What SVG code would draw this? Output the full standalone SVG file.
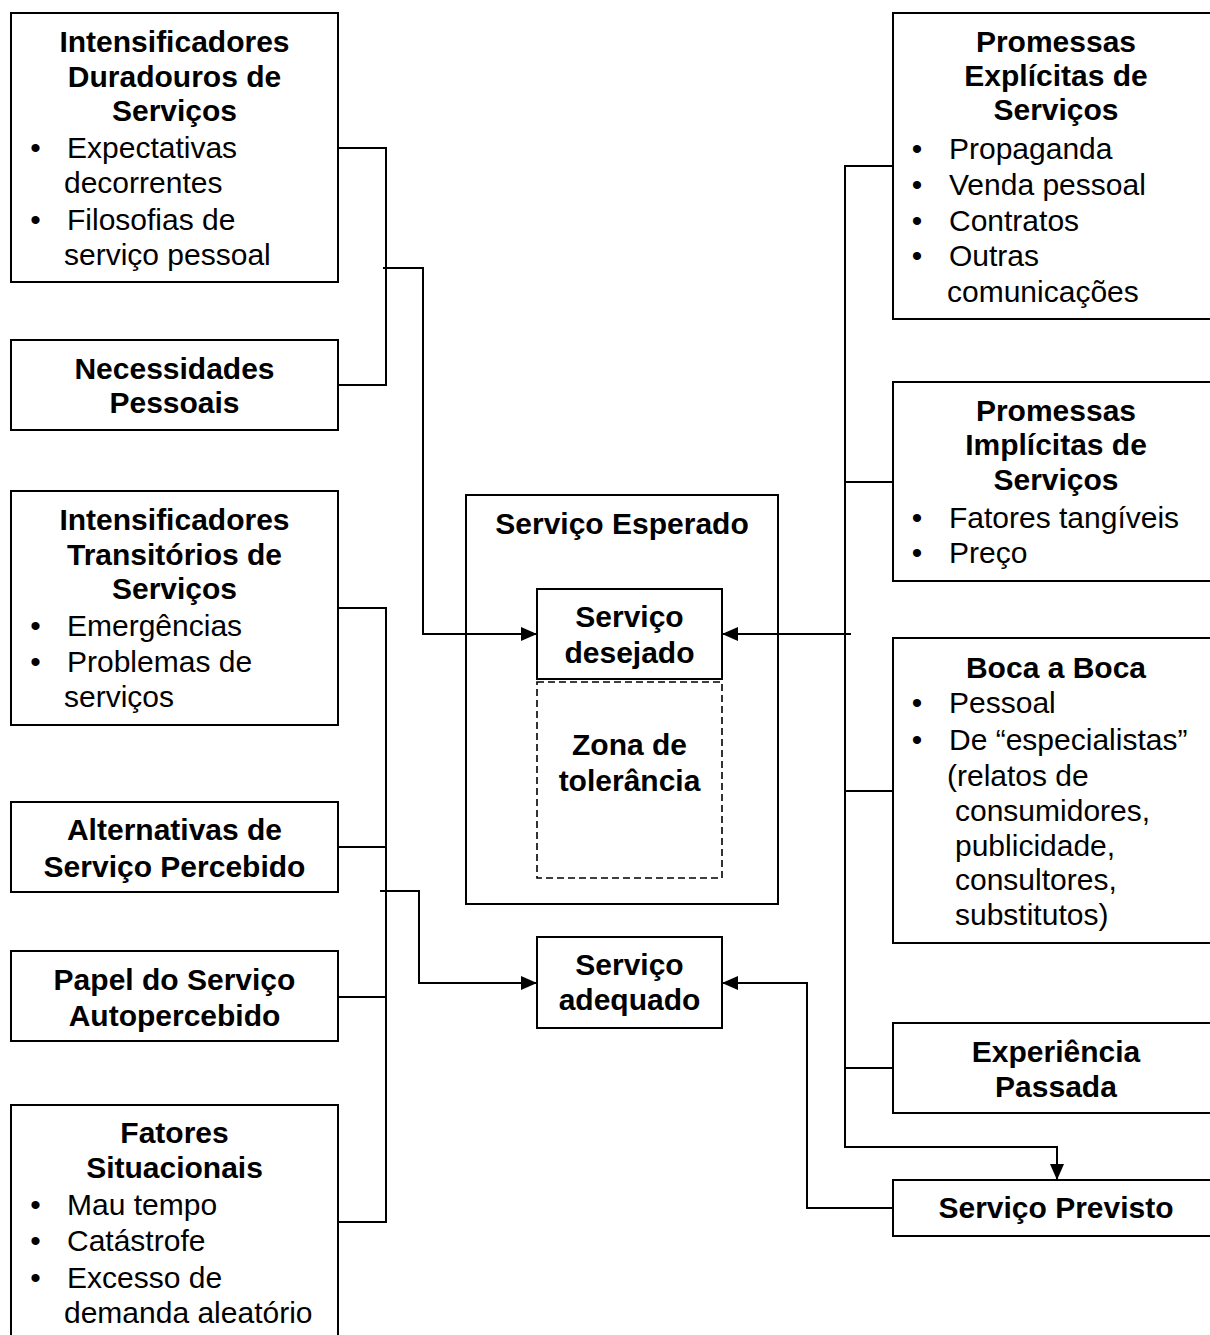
<svg xmlns="http://www.w3.org/2000/svg" width="1210" height="1335" viewBox="0 0 1210 1335">
<defs>
<style>
.box{fill:#fff;stroke:#000;stroke-width:2}
.dash{fill:none;stroke:#000;stroke-width:1.6;stroke-dasharray:7 4}
.t{font-family:"Liberation Sans",Arial,sans-serif;font-size:30px;fill:#000}
.b{font-weight:bold;text-anchor:middle}
.bl{text-anchor:middle}
.ln{fill:none;stroke:#000;stroke-width:2}
</style>
<marker id="arr" viewBox="0 0 16 14" refX="16" refY="7" markerWidth="16" markerHeight="14" markerUnits="userSpaceOnUse" orient="auto">
<path d="M0,0 L16,7 L0,14 z" fill="#000"/>
</marker>
</defs>
<rect width="1210" height="1335" fill="#fff"/>

<g id="duradouros">
<rect class="box" x="11" y="13" width="327" height="269"/>
<text class="t b" x="174.5" y="52">Intensificadores</text>
<text class="t b" x="174.5" y="87">Duradouros de</text>
<text class="t b" x="174.5" y="121">Serviços</text>
<text class="t bl" x="35.5" y="158">•</text>
<text class="t" x="67" y="158">Expectativas</text>
<text class="t" x="64" y="193">decorrentes</text>
<text class="t bl" x="35.5" y="230">•</text>
<text class="t" x="67" y="230">Filosofias de</text>
<text class="t" x="64" y="265">serviço pessoal</text>
</g>

<g id="necessidades">
<rect class="box" x="11" y="340" width="327" height="90"/>
<text class="t b" x="174.5" y="379">Necessidades</text>
<text class="t b" x="174.5" y="413">Pessoais</text>
</g>

<g id="transitorios">
<rect class="box" x="11" y="491" width="327" height="234"/>
<text class="t b" x="174.5" y="530">Intensificadores</text>
<text class="t b" x="174.5" y="565">Transitórios de</text>
<text class="t b" x="174.5" y="599">Serviços</text>
<text class="t bl" x="35.5" y="636">•</text>
<text class="t" x="67" y="636">Emergências</text>
<text class="t bl" x="35.5" y="672">•</text>
<text class="t" x="67" y="672">Problemas de</text>
<text class="t" x="64" y="707">serviços</text>
</g>

<g id="alternativas">
<rect class="box" x="11" y="802" width="327" height="90"/>
<text class="t b" x="174.5" y="840">Alternativas de</text>
<text class="t b" x="174.5" y="877">Serviço Percebido</text>
</g>

<g id="papel">
<rect class="box" x="11" y="951" width="327" height="90"/>
<text class="t b" x="174.5" y="990">Papel do Serviço</text>
<text class="t b" x="174.5" y="1026">Autopercebido</text>
</g>

<g id="situacionais">
<rect class="box" x="11" y="1105" width="327" height="245"/>
<text class="t b" x="174.5" y="1143">Fatores</text>
<text class="t b" x="174.5" y="1178">Situacionais</text>
<text class="t bl" x="35.5" y="1215">•</text>
<text class="t" x="67" y="1215">Mau tempo</text>
<text class="t bl" x="35.5" y="1251">•</text>
<text class="t" x="67" y="1251">Catástrofe</text>
<text class="t bl" x="35.5" y="1288">•</text>
<text class="t" x="67" y="1288">Excesso de</text>
<text class="t" x="64" y="1323">demanda aleatório</text>
</g>

<g id="esperado">
<rect class="box" x="466" y="495" width="312" height="409"/>
<text class="t b" x="622" y="534">Serviço Esperado</text>
</g>

<g id="desejado">
<rect class="box" x="537" y="589" width="185" height="90"/>
<text class="t b" x="629.5" y="627">Serviço</text>
<text class="t b" x="629.5" y="663">desejado</text>
</g>

<g id="tolerancia">
<rect class="dash" x="537" y="682" width="185" height="196"/>
<text class="t b" x="629.5" y="755">Zona de</text>
<text class="t b" x="629.5" y="791">tolerância</text>
</g>

<g id="adequado">
<rect class="box" x="537" y="937" width="185" height="91"/>
<text class="t b" x="629.5" y="975">Serviço</text>
<text class="t b" x="629.5" y="1010">adequado</text>
</g>

<g id="explicitas">
<rect class="box" x="893" y="13" width="330" height="306"/>
<text class="t b" x="1056" y="52">Promessas</text>
<text class="t b" x="1056" y="86">Explícitas de</text>
<text class="t b" x="1056" y="120">Serviços</text>
<text class="t bl" x="917" y="159">•</text>
<text class="t" x="949" y="159">Propaganda</text>
<text class="t bl" x="917" y="195">•</text>
<text class="t" x="949" y="195">Venda pessoal</text>
<text class="t bl" x="917" y="231">•</text>
<text class="t" x="949" y="231">Contratos</text>
<text class="t bl" x="917" y="266">•</text>
<text class="t" x="949" y="266">Outras</text>
<text class="t" x="947" y="302">comunicações</text>
</g>

<g id="implicitas">
<rect class="box" x="893" y="382" width="330" height="199"/>
<text class="t b" x="1056" y="421">Promessas</text>
<text class="t b" x="1056" y="455">Implícitas de</text>
<text class="t b" x="1056" y="490">Serviços</text>
<text class="t bl" x="917" y="528">•</text>
<text class="t" x="949" y="528">Fatores tangíveis</text>
<text class="t bl" x="917" y="563">•</text>
<text class="t" x="949" y="563">Preço</text>
</g>

<g id="boca">
<rect class="box" x="893" y="638" width="330" height="305"/>
<text class="t b" x="1056" y="678">Boca a Boca</text>
<text class="t bl" x="917" y="713">•</text>
<text class="t" x="949" y="713">Pessoal</text>
<text class="t bl" x="917" y="750">•</text>
<text class="t" x="949" y="750">De “especialistas”</text>
<text class="t" x="947" y="786">(relatos de</text>
<text class="t" x="955" y="821">consumidores,</text>
<text class="t" x="955" y="856">publicidade,</text>
<text class="t" x="955" y="890">consultores,</text>
<text class="t" x="955" y="925">substitutos)</text>
</g>

<g id="experiencia">
<rect class="box" x="893" y="1023" width="330" height="90"/>
<text class="t b" x="1056" y="1062">Experiência</text>
<text class="t b" x="1056" y="1097">Passada</text>
</g>

<g id="previsto">
<rect class="box" x="893" y="1180" width="330" height="56"/>
<text class="t b" x="1056" y="1218">Serviço Previsto</text>
</g>

<g id="connectors">
<path class="ln" d="M338,148 H386 V385 H338"/>
<path class="ln" d="M383,268 H423 V634 H537" marker-end="url(#arr)"/>
<path class="ln" d="M338,608 H386 V1222 H338"/>
<path class="ln" d="M338,847 H386"/>
<path class="ln" d="M338,997 H386"/>
<path class="ln" d="M380,891 H419 V983 H537" marker-end="url(#arr)"/>
<path class="ln" d="M893,166 H845 V1147 H1057 V1180" marker-end="url(#arr)"/>
<path class="ln" d="M845,482 H893"/>
<path class="ln" d="M845,791 H893"/>
<path class="ln" d="M845,1068 H893"/>
<path class="ln" d="M851,634 H722" marker-end="url(#arr)"/>
<path class="ln" d="M893,1208 H807 V983 H722" marker-end="url(#arr)"/>
</g>
</svg>
